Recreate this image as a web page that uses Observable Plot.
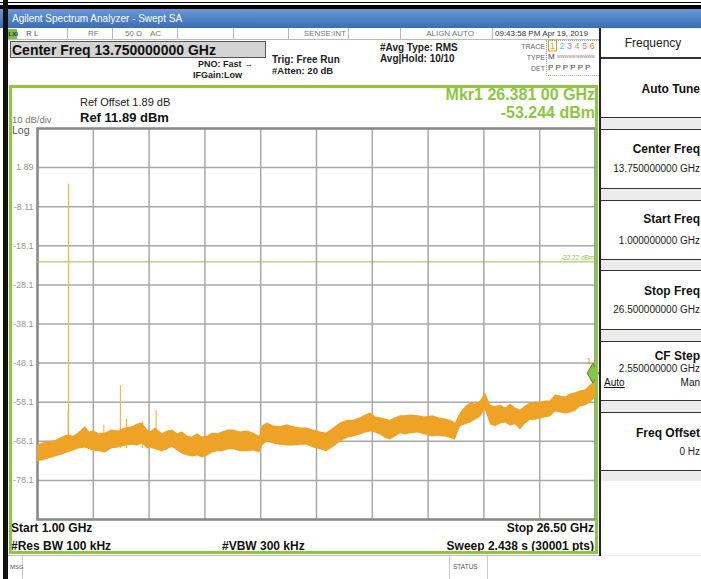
<!DOCTYPE html>
<html><head><meta charset="utf-8">
<script src="https://cdn.jsdelivr.net/npm/d3@7"></script>
<script src="https://cdn.jsdelivr.net/npm/@observablehq/plot@0.6"></script>
<style>
html,body{margin:0;padding:0;}
body{width:701px;height:579px;overflow:hidden;position:relative;background:#fff;font-family:"Liberation Sans",Arial,sans-serif;}
.a{position:absolute;white-space:nowrap;line-height:1;}
.box{position:absolute;box-sizing:border-box;}
#plot{position:absolute;left:10px;top:120px;}
</style></head><body>
<script>
// ---------- data ----------
const freqGHz = [1.00,1.37,1.82,2.14,2.37,2.65,2.87,3.19,3.38,3.56,
 3.83,4.11,4.38,4.70,5.02,5.34,5.57,5.80,6.03,6.16,
 6.39,6.71,6.94,7.17,7.40,7.63,7.86,8.08,8.31,8.54,
 8.77,9.00,9.23,9.45,9.73,9.96,10.28,10.60,10.87,11.15,
 11.28,11.51,11.79,12.10,12.42,12.70,13.02,13.34,13.61,13.93,
 14.21,14.53,14.85,15.17,15.44,15.76,15.99,16.22,16.45,16.67,
 16.90,17.13,17.36,17.59,17.82,18.05,18.41,18.73,19.05,19.33,
 19.65,19.87,20.10,20.33,20.56,20.79,21.02,21.25,21.47,21.70,
 21.93,22.16,22.39,22.62,22.84,23.07,23.30,23.53,23.76,23.99,
 24.22,24.44,24.67,24.90,25.13,25.36,25.59,25.82,26.04,26.27,
 26.50];
const traceHighDbm = [-69.1,-68.3,-68.0,-67.0,-66.5,-66.8,-66.0,-64.4,-65.7,-65.5,
 -66.2,-66.0,-65.2,-65.5,-64.7,-64.4,-63.7,-63.4,-65.2,-65.7,
 -64.7,-66.2,-65.5,-65.2,-66.2,-65.7,-66.8,-67.0,-66.2,-67.0,
 -66.8,-66.0,-66.2,-65.7,-65.2,-65.2,-65.7,-65.5,-66.0,-66.8,
 -64.2,-63.4,-64.2,-64.4,-63.9,-64.4,-64.7,-64.7,-65.2,-65.7,
 -66.0,-64.7,-63.4,-62.7,-62.7,-62.1,-61.4,-60.9,-61.9,-62.1,
 -62.4,-62.7,-62.1,-61.6,-61.6,-61.4,-61.6,-61.9,-61.6,-62.1,
 -62.4,-62.7,-63.4,-60.9,-59.3,-58.3,-58.6,-57.8,-55.7,-58.8,
 -59.3,-58.8,-59.6,-58.6,-59.6,-60.1,-59.1,-58.3,-58.1,-58.1,
 -57.8,-57.8,-56.3,-56.5,-56.8,-56.0,-55.7,-55.2,-55.0,-53.7,
 -52.7];
const traceLowDbm = [-73.4,-72.9,-72.1,-71.6,-71.1,-70.6,-70.1,-69.8,-70.3,-70.6,
 -70.8,-71.1,-70.1,-69.8,-69.3,-69.1,-69.3,-68.8,-70.1,-69.8,
 -70.3,-70.8,-70.3,-69.6,-70.6,-71.4,-71.9,-72.1,-71.9,-72.4,
 -71.9,-71.1,-70.8,-70.8,-70.3,-70.3,-70.8,-70.8,-70.6,-71.1,
 -69.3,-68.3,-68.8,-69.1,-69.3,-69.3,-69.1,-69.1,-69.8,-70.3,
 -70.8,-69.6,-68.3,-67.3,-67.0,-66.5,-66.0,-65.7,-66.0,-66.5,
 -67.3,-67.8,-67.0,-66.2,-66.5,-66.2,-66.0,-66.5,-67.0,-66.8,
 -67.0,-67.3,-67.8,-64.4,-63.9,-63.4,-62.7,-61.9,-60.1,-63.9,
 -64.4,-63.7,-63.4,-64.2,-63.9,-65.2,-63.7,-62.7,-62.7,-62.4,
 -62.1,-61.9,-60.6,-60.9,-61.1,-60.9,-60.4,-59.3,-59.1,-58.3,
 -57.0];
const spikeFreqGHz = [2.42, 2.40, 4.03, 4.79, 5.07, 5.80, 6.42];
const spikePeakDbm = [-2.3, -60.4, -64.1, -53.9, -62.4, -63.2, -60.3];
const gridFreqGHz = [1.00, 3.55, 6.10, 8.65, 11.20, 13.75, 16.30, 18.85, 21.40, 23.95, 26.50];
const gridDbm = [11.89, 1.89, -8.11, -18.11, -28.11, -38.11, -48.11, -58.11, -68.11, -78.11, -88.11];
const gridDbmLabels = ["", "1.89", "-8.11", "-18.1", "-28.1", "-38.1", "-48.1", "-58.1", "-68.1", "-78.1", ""];
const thresholdDbm = -22.22;
const markerFreqGHz = 26.381;
const markerDbm = -53.244;
const startGHz = 1.00, stopGHz = 26.50;

// ---------- tables for Plot ----------
const band = freqGHz.map((f, i) => ({f, hi: traceHighDbm[i], lo: traceLowDbm[i]}));
const spikes = spikeFreqGHz.map((f, i) => ({f, peak: spikePeakDbm[i]}));
const yLabels = gridDbm.map((v, i) => ({v, label: gridDbmLabels[i]}));

// ---------- chrome helpers ----------
function T(txt, x, y, o = {}) {
  const d = document.createElement('div');
  d.className = 'a';
  d.textContent = txt;
  d.style.left = x + 'px';
  d.style.top = y + 'px';
  d.style.fontSize = (o.s || 10) + 'px';
  if (o.b) d.style.fontWeight = 'bold';
  if (o.u) d.style.textDecoration = 'underline';
  d.style.color = o.c || '#111';
  d.style.transform = o.r ? 'translate(-100%,-50%)' : (o.m ? 'translate(-50%,-50%)' : 'translateY(-50%)');
  document.body.appendChild(d);
  return d;
}
function B(x, y, w, h, css) {
  const d = document.createElement('div');
  d.className = 'box';
  d.style.left = x + 'px'; d.style.top = y + 'px';
  d.style.width = w + 'px'; d.style.height = h + 'px';
  d.style.cssText += css || '';
  document.body.appendChild(d);
  return d;
}

// top double line + title bar
B(0, 2, 701, 1, 'background:#000;');
B(0, 5, 701, 4, 'background:#000;');
B(0, 9, 701, 19, 'background:linear-gradient(#6a98d6,#3a6db5);');
T('Agilent Spectrum Analyzer - Swept SA', 12, 19, {s: 10, c: '#fff'});
B(3, 0, 5, 579, 'background:#111;');

// status row
B(8, 28, 592, 12, 'background:#fff;border-bottom:1px solid #bbb;');
B(8, 29, 9, 10, 'background:#7dbf3c;');
T('LXI', 8.5, 34, {s: 6, b: true, c: '#234'});
[67, 112, 177, 233, 288, 348, 400, 492].forEach(x => B(x, 28, 1, 12, 'background:#bbb;'));
T('R L', 26, 34, {s: 8, c: '#555'});
T('RF', 88, 34, {s: 8, c: '#777'});
T('50 \u03A9', 125, 34, {s: 8, c: '#777'});
T('AC', 150, 34, {s: 8, c: '#777'});
T('SENSE:INT', 346, 34, {s: 8, c: '#777', r: true});
T('ALIGN AUTO', 474, 34, {s: 8, c: '#777', r: true});
T('09:43:58 PM Apr 19, 2019', 495, 34, {s: 8, c: '#333'});

// row 2
B(10, 41, 256, 17, 'background:#d4d4d4;border:1px solid #555;');
T('Center Freq 13.750000000 GHz', 12, 49.5, {s: 14, b: true, c: '#111'});
T('PNO: Fast \u2192', 198, 64, {s: 9, b: true, c: '#222'});
T('IFGain:Low', 193, 75, {s: 9, b: true, c: '#222'});
T('Trig: Free Run', 272, 60, {s: 10, b: true, c: '#222'});
T('#Atten: 20 dB', 272, 71, {s: 9.5, b: true, c: '#222'});
T('#Avg Type: RMS', 380, 48, {s: 10, b: true, c: '#222'});
T('Avg|Hold: 10/10', 380, 59, {s: 10, b: true, c: '#222'});
B(546, 40, 53, 36, 'border:1px dotted #aaa;border-right:none;');
T('TRACE', 545, 46, {s: 7, c: '#666', r: true});
T('TYPE', 545, 57, {s: 7, c: '#666', r: true});
T('DET', 545, 68, {s: 7, c: '#666', r: true});
const tr = T('', 548, 46, {s: 9});
tr.innerHTML = '<span style="color:#e8a020;border:1px solid #e8a020;padding:0 1px">1</span> <span style="color:#58c0e6">2</span> <span style="color:#b07ad6">3</span> <span style="color:#7dbf3c">4</span> <span style="color:#e0709e">5</span> <span style="color:#e07a30">6</span>';
T('M', 548, 57, {s: 8, c: '#444'});
T('WWWWWWWWWW', 557, 57, {s: 4, c: '#777'});
T('P P P P P P', 548, 68, {s: 8, c: '#444'});

// header texts in frame
T('Ref Offset 1.89 dB', 80, 102, {s: 11, c: '#222'});
T('Ref 11.89 dBm', 80, 117, {s: 13, b: true, c: '#111'});
T('10 dB/div', 12, 119.5, {s: 9.5, c: '#777'});
T('Log', 12, 130, {s: 10.5, c: '#555'});
T('Mkr1 26.381 00 GHz', 595, 95, {s: 16, b: true, c: '#8dc63f', r: true});
T('-53.244 dBm', 595, 113, {s: 16, b: true, c: '#8dc63f', r: true});
T('Start 1.00 GHz', 11, 528, {s: 12, b: true, c: '#111'});
T('Stop 26.50 GHz', 594, 528, {s: 12, b: true, c: '#111', r: true});
T('#Res BW 100 kHz', 11, 546, {s: 12, b: true, c: '#111'});
T('#VBW 300 kHz', 222, 546, {s: 12, b: true, c: '#111'});
T('Sweep  2.438 s (30001 pts)', 594, 546, {s: 12, b: true, c: '#111', r: true});

// bottom message row
B(8, 555, 693, 1, 'background:#bbb;');
B(22, 556, 1, 23, 'background:#ccc;');
B(449, 556, 1, 23, 'background:#ccc;');
B(487, 556, 1, 23, 'background:#ccc;');
T('MSG', 10, 567, {s: 6, c: '#555'});
T('STATUS', 453, 567, {s: 6.5, c: '#555'});

// softkey panel
B(599, 28, 102, 528, 'background:#ececec;border-left:2px solid #222;');
B(601, 29, 100, 29, 'background:#fff;border-bottom:1px solid #333;');
T('Frequency', 653, 43, {s: 12, c: '#222', m: true});
[[58, 118], [129, 189], [200, 260], [270, 330], [341, 401], [412, 471]].forEach(([a, b]) =>
  B(601, a, 102, b - a, 'background:#fff;border:1px solid #333;border-left:none;'));
B(601, 481, 100, 74, 'background:#fff;');
T('Auto Tune', 700, 89, {s: 12, b: true, c: '#111', r: true});
T('Center Freq', 700, 149, {s: 12, b: true, c: '#111', r: true});
T('13.750000000 GHz', 700, 169, {s: 10, c: '#222', r: true});
T('Start Freq', 700, 219, {s: 12, b: true, c: '#111', r: true});
T('1.000000000 GHz', 700, 241, {s: 10, c: '#222', r: true});
T('Stop Freq', 700, 291, {s: 12, b: true, c: '#111', r: true});
T('26.500000000 GHz', 700, 310, {s: 10, c: '#222', r: true});
T('CF Step', 700, 356, {s: 12, b: true, c: '#111', r: true});
T('2.550000000 GHz', 700, 369, {s: 10, c: '#222', r: true});
T('Auto', 604, 383, {s: 10, c: '#111', u: true});
T('Man', 700, 383, {s: 10, c: '#111', r: true});
T('Freq Offset', 700, 433, {s: 12, b: true, c: '#111', r: true});
T('0 Hz', 700, 452, {s: 10, c: '#222', r: true});

// ---------- the plot ----------
const orange = '#eea226';
const green = '#8dc63f';
const chart = Plot.plot({
  width: 590, height: 410,
  marginLeft: 27, marginRight: 5, marginTop: 8, marginBottom: 11,
  x: {domain: [startGHz, stopGHz], axis: null},
  y: {domain: [-88.11, 11.89], axis: null},
  style: {background: 'transparent', overflow: 'visible', fontFamily: '"Liberation Sans", Arial, sans-serif'},
  marks: [
    Plot.ruleX(gridFreqGHz, {stroke: '#a8a8a8', strokeWidth: 1.5, strokeOpacity: 1}),
    Plot.ruleY(gridDbm, {stroke: '#a8a8a8', strokeWidth: 1.5, strokeOpacity: 1}),
    Plot.frame({stroke: '#8a8a8a', strokeWidth: 2.5}),
    Plot.ruleY([thresholdDbm], {stroke: green, strokeWidth: 1}),
    Plot.text([thresholdDbm], {y: d => d, frameAnchor: 'right', text: d => d.toFixed(2) + ' dBm', textAnchor: 'end', dy: -4, dx: -1, fontSize: 6.5, fill: green}),
    Plot.ruleX(spikes, {x: 'f', y1: -70, y2: 'peak', stroke: '#f2b84a', strokeWidth: 1.2}),
    Plot.areaY(band, {x: 'f', y1: 'lo', y2: 'hi', fill: orange, fillOpacity: 1}),
    Plot.text(yLabels, {y: 'v', frameAnchor: 'left', text: 'label', textAnchor: 'end', dx: -4, fontSize: 9, fill: '#999'}),
    Plot.dot([{f: markerFreqGHz, v: markerDbm}], {x: 'f', y: 'v', symbol: 'diamond', r: 6, dy: -10, fill: '#86c548', stroke: '#4d8a2a', strokeWidth: 1}),
    Plot.text([{f: markerFreqGHz, v: markerDbm}], {x: 'f', y: 'v', text: () => '1', dx: -4, dy: -22, fontSize: 9, fill: orange})
  ]
});
chart.id = 'plot';
document.body.appendChild(chart);

// green frame on top
B(9, 85, 589, 469, 'border:3px solid ' + green + ';pointer-events:none;z-index:5;');
</script>
</body></html>
